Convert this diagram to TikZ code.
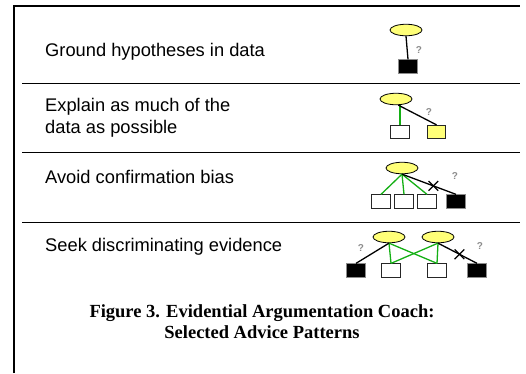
\documentclass[tikz,border=0pt]{standalone}
\usepackage{fontspec}
\setmainfont{Liberation Serif}
\setsansfont{Liberation Sans}
\usetikzlibrary{shapes.geometric,shapes.misc}

\definecolor{hypfill}{RGB}{255,255,120}
\definecolor{supportgreen}{RGB}{20,175,20}
\definecolor{qgray}{RGB}{140,140,140}

\begin{document}
\begin{tikzpicture}[x=1pt,y=-1pt,
  hyp/.style={ellipse,draw=black,fill=hypfill,line width=0.8pt,
    minimum width=32pt,minimum height=11.5pt,inner sep=0pt},
  datum/.style={rectangle,draw=black!85,line width=0.8pt,fill=white,
    minimum width=18.5pt,minimum height=13.5pt,inner sep=0pt},
  missing/.style={datum,fill=black,draw=black!45},
  unexplained/.style={datum,fill=hypfill},
  support/.style={draw=supportgreen,line width=1.3pt},
  link/.style={draw=black,line width=1.3pt},
  query/.style={text=qgray,font=\sffamily\bfseries\fontsize{10}{10}\selectfont,inner sep=0pt},
  advice/.style={font=\sffamily\fontsize{18.3}{22}\selectfont,anchor=west,
    inner sep=0pt,align=left},
  cut/.style={cross out,draw=black,line width=1.2pt,minimum size=8.5pt,inner sep=0pt},
  rowrule/.style={line width=0.6pt}
]
\useasboundingbox (0,0) rectangle (526,373);

% outer frame (left and top edges)
\draw[line width=1.8pt] (14,373) -- (14,6) -- (520,6);
% rules between the advice rows
\draw[rowrule] (22,83) -- (520,83);
\draw[rowrule] (22,152) -- (520,152);
\draw[rowrule] (22,222) -- (520,222);

% advice texts
\node[advice] (t1) at (45,52) {Ground hypotheses in data};
\node[advice] (t2) at (45,118) {Explain as much of the\\data as possible};
\node[advice] (t3) at (45,177) {Avoid confirmation bias};
\node[advice] (t4) at (45,247) {Seek discriminating evidence};

% pattern 1: hypothesis without supporting data
\node[hyp] (h1) at (406,30) {};
\node[missing] (d1) at (408,66.5) {};
\draw[link] (h1.south) -- (d1.north);
\node[query] (q1) at (419,50) {?};

% pattern 2: unexplained datum
\node[hyp] (h2) at (396,99) {};
\node[datum] (d2a) at (400,132) {};
\node[unexplained] (d2b) at (436.5,132) {};
\draw[support] (d2a.north) -- (d2a.north |- h2.south);
\draw[link] (h2.-70) -- (d2b.north);
\node[query] (q2) at (429,112) {?};

% pattern 3: confirmation bias
\node[hyp] (h3) at (402,168) {};
\node[datum] (d3a) at (381,201.5) {};
\node[datum] (d3b) at (404,201.5) {};
\node[datum] (d3c) at (427,201.5) {};
\node[missing] (d3d) at (456,201.5) {};
\draw[support] (h3.south) -- (d3a.north);
\draw[support] (h3.south) -- (d3b.north);
\draw[support] (h3.south) -- (d3c.north);
\draw[link] (h3.south) -- node[cut,pos=0.58] (x3) {} (d3d.north);
\node[query] (q3) at (455,176) {?};

% pattern 4: discriminating evidence
\node[hyp] (h4a) at (389,237) {};
\node[hyp] (h4b) at (438,237) {};
\node[missing] (d4a) at (356,270.5) {};
\node[datum] (d4b) at (391,270.5) {};
\node[datum] (d4c) at (437,270.5) {};
\node[missing] (d4d) at (477,270.5) {};
\draw[support] (h4a.south) -- (d4b.north);
\draw[support] (h4a.south) -- (d4c.north);
\draw[support] (h4b.south) -- (d4c.north);
\draw[support] (h4b.south) -- (d4b.north);
\draw[link] (h4a.south) -- (d4a.north);
\draw[link] (h4b.south) -- node[cut,pos=0.55] (x4) {} (d4d.north);
\node[query] (q4a) at (361,248) {?};
\node[query] (q4b) at (480,246) {?};

% caption
\node[font=\bfseries\fontsize{18.5}{21}\selectfont,align=center,inner sep=0pt]
  (cap) at (262,322) {Figure 3. Evidential Argumentation Coach:\\Selected Advice Patterns};
\end{tikzpicture}
\end{document}
